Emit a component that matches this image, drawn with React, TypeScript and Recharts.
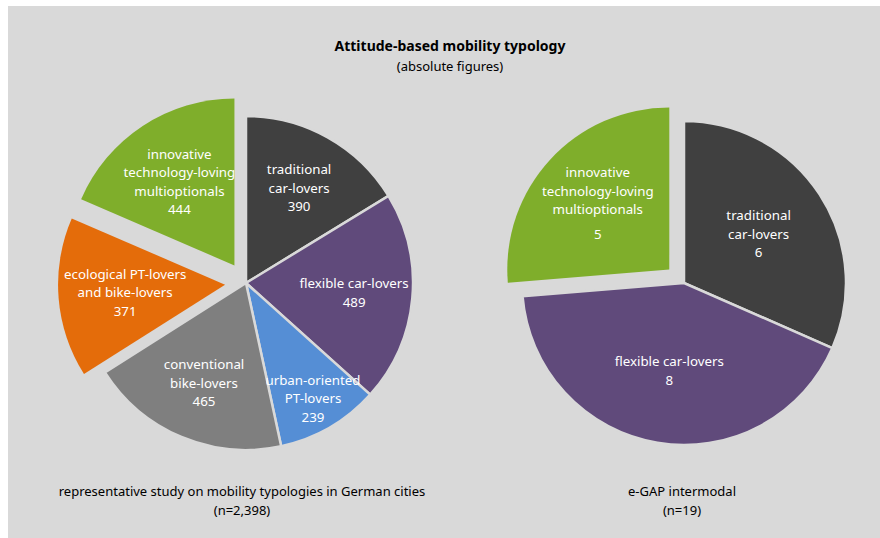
import React from 'react';
import { PieChart, Pie, Cell, Sector } from 'recharts';

// ---------- data ----------
const leftCategories = [
  'traditional car-lovers',
  'flexible car-lovers',
  'urban-oriented PT-lovers',
  'conventional bike-lovers',
  'ecological PT-lovers and bike-lovers',
  'innovative technology-loving multioptionals',
];
const leftValues = [390, 489, 239, 465, 371, 444];
const leftLabelLines = [
  ['traditional', 'car-lovers'],
  ['flexible car-lovers'],
  ['urban-oriented', 'PT-lovers'],
  ['conventional', 'bike-lovers'],
  ['ecological PT-lovers', 'and bike-lovers'],
  ['innovative', 'technology-loving', 'multioptionals'],
];
const leftExploded = [false, false, false, false, true, true];
const leftColors = ['#404040', '#604a7b', '#558ed5', '#7f7f7f', '#e46c0a', '#7fae2b'];

const rightCategories = [
  'traditional car-lovers',
  'flexible car-lovers',
  'innovative technology-loving multioptionals',
];
const rightValues = [6, 8, 5];
const rightLabelLines = [
  ['traditional', 'car-lovers'],
  ['flexible car-lovers'],
  ['innovative', 'technology-loving', 'multioptionals', ''],
];
const rightExploded = [false, false, true];
const rightColors = ['#404040', '#604a7b', '#7fae2b'];

const titleText = 'Attitude-based mobility typology';
const subtitleText = '(absolute figures)';
const leftCaption = ['representative study on mobility typologies in German cities', '(n=2,398)'];
const rightCaption = ['e-GAP intermodal', '(n=19)'];

// ---------- helpers ----------
const BG = '#d9d9d9';
const RAD = Math.PI / 180;
const FONT = '"Noto Sans", "Open Sans", sans-serif';

const buildData = (cats: string[], vals: number[], lines: string[][], exploded: boolean[]) =>
  cats.map((name, i) => ({ name, value: vals[i], lines: lines[i], exploded: exploded[i] }));

const leftData = buildData(leftCategories, leftValues, leftLabelLines, leftExploded);
const rightData = buildData(rightCategories, rightValues, rightLabelLines, rightExploded);

const shiftCenter = (cx: number, cy: number, midAngle: number, off: number) => ({
  x: cx + off * Math.cos(-midAngle * RAD),
  y: cy + off * Math.sin(-midAngle * RAD),
});

const makeShape = (offset: number) => (props: any) => {
  const exploded = props.payload && props.payload.exploded;
  const c = shiftCenter(props.cx, props.cy, props.midAngle, exploded ? offset : 0);
  return (
    <Sector
      cx={c.x}
      cy={c.y}
      innerRadius={props.innerRadius}
      outerRadius={props.outerRadius}
      startAngle={props.startAngle}
      endAngle={props.endAngle}
      fill={props.fill}
      stroke={exploded ? 'none' : BG}
      strokeWidth={2.5}
    />
  );
};

const makeLabel = (offset: number, ratio: number, explodedRatio: number) => (props: any) => {
  const { cx, cy, midAngle, outerRadius, startAngle, endAngle, payload, value } = props;
  const exploded = payload && payload.exploded;
  const c = shiftCenter(cx, cy, midAngle, exploded ? offset : 0);
  const span = Math.abs(endAngle - startAngle);
  const r = outerRadius * (span < 45 ? 0.8 : exploded ? explodedRatio : ratio);
  const p = shiftCenter(c.x, c.y, midAngle, r);
  const lines: string[] = [...(payload.lines || []), String(value)];
  const lh = 18.5;
  const hts = lines.map((l) => (l === '' ? lh * 0.35 : lh));
  const total = hts.reduce((a, b) => a + b, 0) - lh;
  let y = p.y - total / 2;
  const out: any[] = [];
  lines.forEach((l, i) => {
    if (l !== '') {
      out.push(
        <tspan key={i} x={p.x} y={y} dy="0.35em">
          {l}
        </tspan>
      );
    }
    y += hts[i];
  });
  return (
    <text
      key={`lbl-${payload.name}`}
      textAnchor="middle"
      fill="#ffffff"
      fontFamily={FONT}
      fontSize={13.3}
    >
      {out}
    </text>
  );
};

const Caption = ({ x, y, lines, size, bold }: any) => (
  <div
    style={{
      position: 'absolute',
      left: x,
      top: y,
      transform: 'translateX(-50%)',
      textAlign: 'center',
      whiteSpace: 'nowrap',
      fontFamily: FONT,
      fontSize: size,
      fontWeight: bold ? 700 : 400,
      lineHeight: '19px',
      color: '#000',
    }}
  >
    {lines.map((l: string, i: number) => (
      <div key={i}>{l}</div>
    ))}
  </div>
);

export default function App() {
  return (
    <div style={{ position: 'absolute', left: 0, top: 0, width: 880, height: 538, background: '#fff' }}>
      <div style={{ position: 'absolute', left: 8, top: 6, width: 872, height: 532, background: BG }} />
      <div style={{ position: 'absolute', left: 0, top: 0 }}>
        <PieChart width={880} height={538} margin={{ top: 0, right: 0, bottom: 0, left: 0 }}>
          <Pie
            data={leftData}
            dataKey="value"
            nameKey="name"
            cx={246}
            cy={283}
            outerRadius={167}
            startAngle={90}
            endAngle={-270}
            isAnimationActive={false}
            shape={makeShape(21)}
            label={makeLabel(21, 0.65, 0.6)}
            labelLine={false}
          >
            {leftData.map((d, i) => (
              <Cell key={d.name} fill={leftColors[i]} />
            ))}
          </Pie>
          <Pie
            data={rightData}
            dataKey="value"
            nameKey="name"
            cx={684}
            cy={283}
            outerRadius={162}
            startAngle={90}
            endAngle={-270}
            isAnimationActive={false}
            shape={makeShape(20)}
            label={makeLabel(20, 0.55, 0.6)}
            labelLine={false}
          >
            {rightData.map((d, i) => (
              <Cell key={d.name} fill={rightColors[i]} />
            ))}
          </Pie>
        </PieChart>
      </div>
      <Caption x={450} y={36} lines={[titleText]} size={14} bold />
      <Caption x={450} y={57} lines={[subtitleText]} size={13} />
      <Caption x={242} y={482} lines={leftCaption} size={13} />
      <Caption x={682} y={482} lines={rightCaption} size={13} />
    </div>
  );
}
